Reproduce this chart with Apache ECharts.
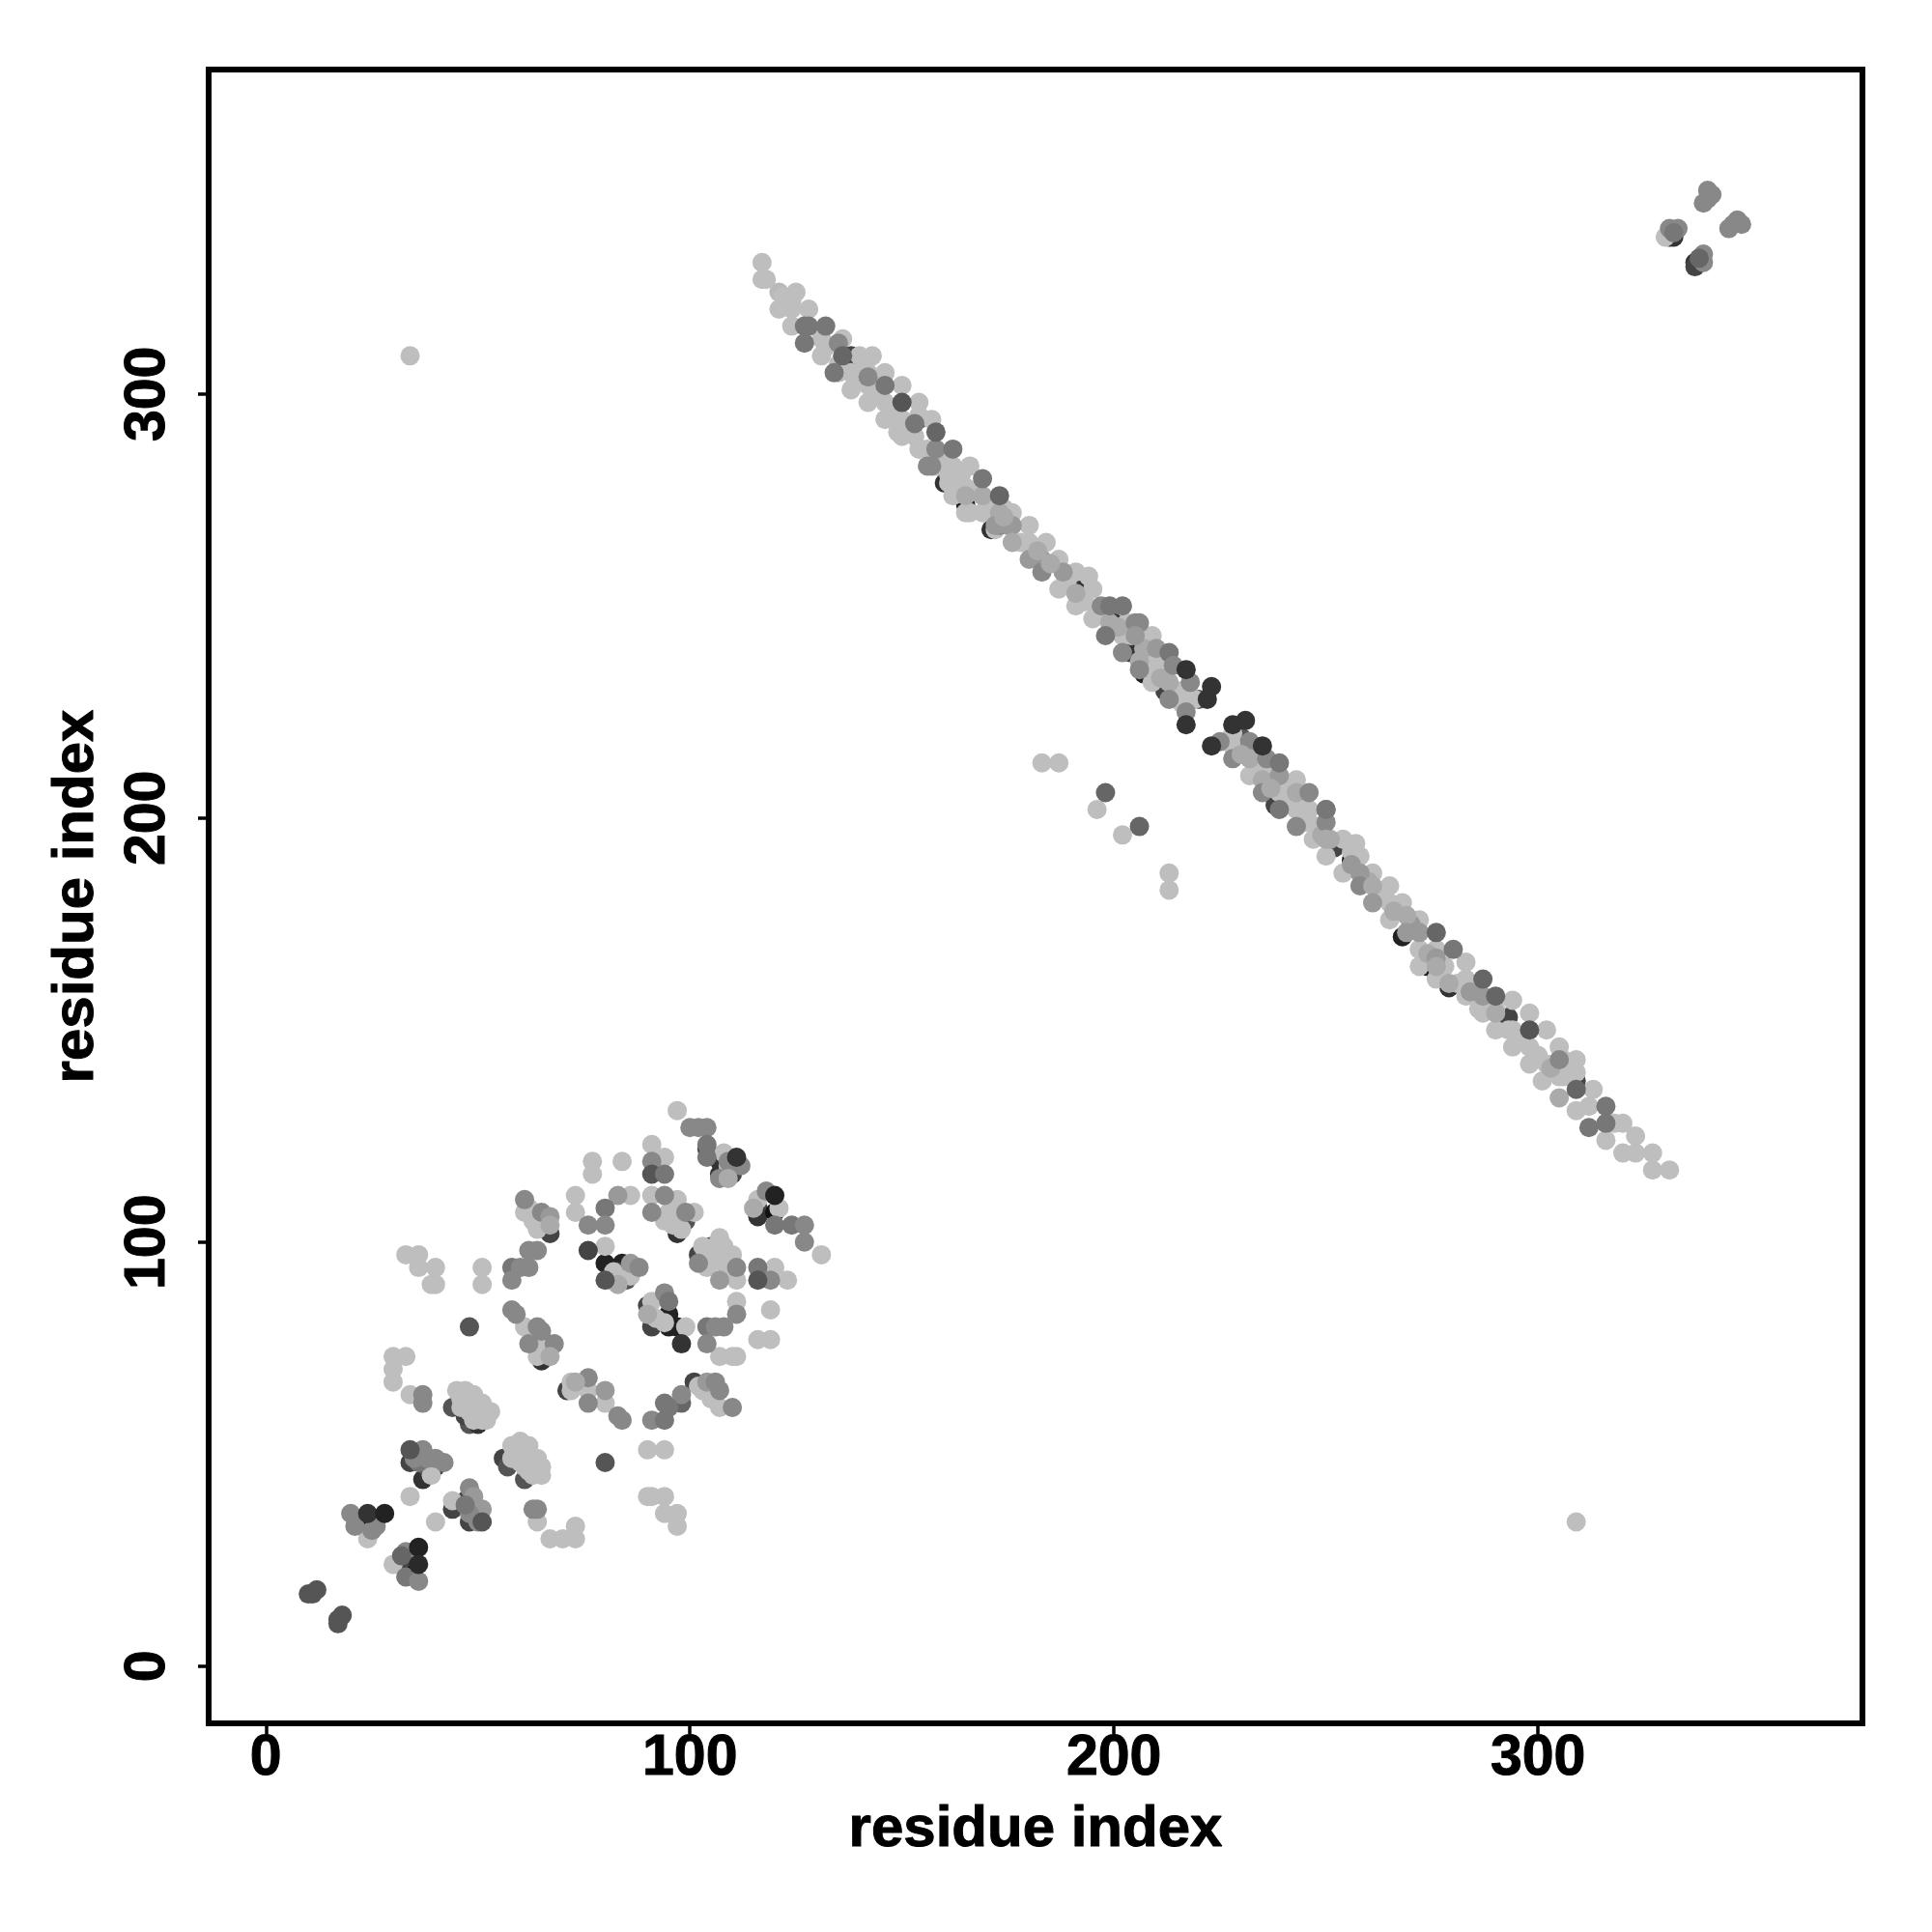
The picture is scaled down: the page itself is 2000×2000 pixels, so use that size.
<!DOCTYPE html>
<html><head><meta charset="utf-8">
<style>html,body{margin:0;padding:0;background:#fff}#c{width:2000px;height:2000px}</style>
<script src="https://cdn.jsdelivr.net/npm/echarts@6/dist/echarts.min.js"></script>
</head><body><div id="c"></div>
<script>
// each point: [residue x, residue y, grey level], drawn layer by layer
const tickValues = [0, 100, 200, 300];
const axisTitle = 'residue index';

const underPoints = [
[33,24,17],[32,25,68],[24,33,17],[25,32,68],[34,48,68],[37,44,51],[38,47,85],[40,47,68],
[47,39,68],[44,37,68],[48,34,68],[44,61,85],[48,57,85],[50,57,51],[47,59,68],
[56,49,68],[57,47,85],[61,44,85],[67,102,68],[66,76,17],[65,72,51],[71,65,68],[75,66,17],
[80,95,34],[84,95,34],[85,91,85],[83,93,68],[90,85,68],[91,80,68],[97,80,34],[95,80,34],[95,83,34],
[97,102,51],[99,105,85],[105,99,85],[102,97,68],[107,119,51],[107,116,51],[110,116,68],[104,122,68],
[116,108,68],[116,106,51],[120,107,17],[101,67,68],
[138,309,68],[160,279,51],[165,274,34],[171,268,51],[189,257,51],[191,254,51],[207,234,34],[204,239,51],
[154,294,85],[200,246,51],[212,230,68],[220,228,85],[230,219,85],[232,216,51],[238,203,68],
[252,193,68],[256,190,17],[268,172,34],[274,165,34],[279,160,51],[293,153,68],[309,138,68],
[331,337,34],[332,337,51],[337,331,51],[337,330,68]
];

const lightPoints = [
[30,24,190],[24,30,190],[34,40,190],[40,34,190],[39,45,190],[44,39,190],[34,64,190],[30,67,190],[30,70,190],
[30,73,190],[33,73,190],[33,97,190],[36,97,190],[36,94,190],[40,94,190],[39,90,190],[40,90,190],[51,94,190],[51,90,190],
[45,65,190],[47,65,190],[49,64,190],[51,62,190],[53,60,190],[46,63,190],[48,62,190],[50,60,190],[52,58,190],[49,58,190],
[46,61,190],[48,60,190],[51,58,190],
[60,53,190],[58,52,190],[62,52,190],[64,49,190],[65,47,190],[65,45,190],[62,49,190],[59,50,190],[61,47,190],[63,45,190],[60,50,190],
[58,49,190],[60,48,190],[62,46,190],
[64,34,190],[67,30,190],[70,30,190],[73,30,190],[73,33,190],[90,51,190],[94,51,190],[90,40,190],[91,40,190],[94,40,190],[94,36,190],[97,36,190],[97,33,190],
[107,73,190],[110,73,190],[111,73,190],[116,77,190],[119,77,190],[119,84,190],[111,86,190],
[61,107,190],[62,108,190],[64,103,190],[63,105,190],[73,111,190],[73,107,190],[61,80,190],[64,76,190],[64,73,190],
[77,119,190],[77,116,190],[84,119,190],[86,111,190],[80,99,190],[91,123,190],[94,120,190],[91,111,190],
[97,110,190],[95,107,190],[94,105,190],[96,104,190],[97,107,190],[101,107,190],[98,103,190],
[107,101,190],[110,97,190],[107,97,190],[104,94,190],[106,99,190],[105,95,190],[108,95,190],[111,91,190],[120,94,190],[123,91,190],
[104,97,190],[103,99,190],[108,99,190],[109,93,190],
[82,93,190],[86,92,190],[81,91,190],[91,86,190],[92,82,190],[94,81,190],[99,80,190],[108,121,190],[109,118,190],
[121,108,190],[116,110,190],[131,97,190],[97,131,190],[72,65,190],[76,65,190],[80,62,190],[103,65,190],[105,63,190],[107,61,190],[102,66,190],
[72,67,190],[34,309,190],[309,34,190],[183,213,190],[187,213,190],[196,202,190],[202,196,190],[213,187,190],[213,183,190],
[117,331,190],[117,327,190],[118,327,190],[125,324,190],[121,320,190],[124,322,190],[128,320,190],[124,316,190],[121,324,185],
[122,323,190],[124,320,190],[132,311,190],[135,307,190],[141,308,190],[139,303,190],[143,304,190],[144,300,190],[148,296,190],[149,291,190],[152,292,190],
[156,287,190],[159,284,190],[161,281,190],[164,281,190],[165,278,190],[167,277,190],[170,273,190],[174,273,190],[175,270,190],[161,279,190],[172,268,190],
[136,313,190],[131,309,190],[131,313,190],[140,309,190],[143,309,190],[135,305,190],[138,305,190],[138,301,190],[142,305,190],[146,305,190],
[142,302,190],[142,298,190],[150,302,190],[146,298,190],[146,294,190],[150,294,190],[150,290,190],[154,298,190],[154,295,190],[157,294,190],
[153,290,190],[154,287,190],[158,283,190],[162,283,190],[166,283,190],[164,278,190],[162,276,190],[165,272,190],[169,272,190],[176,272,190],
[166,272,190],[180,269,190],[180,265,190],[184,265,190],[187,261,190],[187,254,190],[191,258,190],[194,257,190],[195,254,190],[191,250,190],[195,247,190],
[170,275,190],[178,265,190],[189,256,190],[193,251,190],[196,249,190],[204,243,190],[208,237,190],[211,236,190],[215,230,190],[216,227,190],
[202,243,190],[203,246,190],[209,243,190],[209,236,190],[209,232,190],[216,229,190],[219,228,190],
[228,220,190],[228,217,190],[232,210,190],[243,209,190],[239,206,190],[243,202,190],[246,202,190],[246,199,190],[247,195,190],[250,191,190],
[234,212,190],[237,211,190],[241,208,190],[241,204,190],[245,203,190],[245,199,190],[256,192,190],[263,182,190],
[254,195,190],[257,194,190],[258,191,190],[254,187,190],[261,187,190],[265,184,190],[265,180,190],[268,180,190],[265,176,190],[272,176,190],
[272,173,185],[272,169,190],[276,169,190],[272,165,190],[276,162,190],[283,166,190],[283,162,190],[283,158,190],[287,154,190],[294,157,190],[298,154,190],
[278,165,190],[281,161,190],[286,155,190],[290,155,190],[293,150,190],[297,149,190],[300,144,190],[306,139,190],
[290,150,190],[294,150,190],[302,150,190],[294,146,190],[298,146,190],[305,146,190],[298,142,190],[302,142,190],[306,143,190],[309,143,190],
[301,138,190],[309,140,190],[305,139,190],[309,131,190],[312,132,190],[313,136,190],[318,128,190],[320,128,190],[316,124,190],[323,125,190],
[320,121,190],[323,121,190],[327,121,190],[327,117,190],[331,117,190],[330,337,190]
];

const midPoints = [
[33,27,136],[32,26,102],[33,21,119],[36,20,136],[20,36,136],[21,33,136],[26,33,136],[25,32,136],
[37,51,136],[36,48,119],[40,49,136],[42,48,136],[35,49,136],[38,49,136],[37,64,136],[37,62,136],
[48,42,136],[49,40,153],[51,37,153],[48,36,136],[50,34,136],[47,38,119],[63,37,136],[64,37,136],
[58,94,119],[60,94,136],[62,94,136],[62,98,136],[64,98,136],[58,91,136],[61,110,136],[65,107,136],[67,106,153],[67,104,170],
[58,84,136],[59,83,136],[64,80,136],[65,79,136],[62,76,136],[68,76,136],[67,73,170],
[100,127,136],[102,127,136],[104,127,136],[104,123,119],[104,120,119],[112,118,136],[109,119,136],[107,115,136],[109,115,170],
[91,119,136],[91,116,85],[94,116,119],[83,111,153],[80,108,119],[80,104,136],[76,104,136],[91,107,136],[94,111,136],
[99,107,136],[86,95,153],[88,94,136],[83,90,170],[80,91,85],[94,88,136],[95,86,119],[90,83,170],
[102,95,136],[111,94,136],[107,91,153],[116,94,119],[119,91,136],[111,83,136],[104,80,119],[108,80,136],[106,80,136],[104,76,136],
[118,112,136],[115,108,170],[120,104,119],[124,104,119],[127,104,136],[127,100,136],
[76,62,136],[76,68,136],[73,67,170],[80,65,153],[83,59,136],[84,58,136],[91,58,136],[94,58,119],[94,62,119],[98,62,102],[98,64,136],[95,61,119],
[104,67,153],[106,67,136],[107,65,136],[110,61,136],[198,206,102],[206,198,102],
[340,348,136],[341,347,136],[339,345,136],[340,346,136],[347,341,136],[348,340,136],[345,339,136],[346,340,136],
[331,339,136],[333,339,136],[332,338,119],[339,333,136],[339,331,136],[338,332,102],
[135,312,136],[134,305,119],[142,304,136],[146,302,119],[153,293,119],[158,287,136],[157,283,136],[165,276,170],[169,276,170],[156,283,136],
[173,269,136],[175,269,153],[173,272,170],[172,269,153],[176,269,153],[176,265,170],[180,261,153],[183,261,153],[183,258,136],[188,258,153],
[174,271,170],[182,263,170],[185,260,170],[191,253,170],[199,246,170],[201,245,170],[207,240,170],[206,237,170],[211,233,170],
[197,250,136],[199,250,119],[202,250,119],[198,243,119],[202,239,136],[205,246,136],[206,246,136],[205,243,153],[210,240,153],[213,239,119],
[206,235,136],[213,232,170],[214,236,136],[218,232,136],[213,228,136],[217,225,136],
[225,218,136],[232,218,136],[228,214,136],[232,214,170],[235,209,170],[236,214,136],[239,210,153],[235,206,136],[243,206,170],[246,206,136],
[230,215,170],[237,207,170],[249,196,170],[251,195,170],[256,189,153],[260,185,170],[266,178,170],[270,175,153],[274,168,170],[276,167,153],[284,159,153],[303,141,170],
[239,202,119],[250,202,119],[243,198,136],[250,199,136],[250,195,170],[258,187,153],[258,184,136],[261,184,170],[261,180,153],[269,177,170],
[269,173,153],[272,173,153],[287,158,153],[290,154,170],[276,165,170],[279,161,170],[305,143,136],[305,134,170]
];

const topPoints = [
[10,17,85],[11,17,85],[12,18,85],[17,10,85],[18,12,85],[17,11,85],
[36,28,34],[36,24,42],[24,36,51],[28,36,34],[34,51,85],[51,34,85],[76,98,68],[111,120,51],[120,111,34],[98,76,51],[48,80,85],[80,48,85],[116,91,85],
[127,316,119],[128,316,119],[132,316,119],[127,312,119],[136,309,102],[150,298,85],[158,291,102],[162,287,119],[169,280,119],[173,276,102],
[217,235,51],[223,231,51],[222,228,51],[217,222,51],[231,223,51],[228,222,51],[235,217,51],[223,217,51],[239,213,119],
[250,202,119],[276,173,102],[280,169,119],[287,162,102],[290,158,102],[298,150,85],[309,136,102],[316,132,119],[312,127,119],[316,128,119]
];

const layers = [underPoints, lightPoints, midPoints, topPoints];
const grey = g => `rgb(${g},${g},${g})`;
const font = { color:'#000', fontFamily:'"Liberation Sans"', fontWeight:'bold', fontSize:59, textBorderColor:'#000', textBorderWidth:1 };
const axisCommon = {
  type:'value', min:-13.5, max:376.5, name:axisTitle, nameLocation:'middle',
  nameTextStyle:{...font, fontSize:60}, splitLine:{show:false},
  axisLine:{show:false, onZero:false},
  axisTick:{show:true, length:11, inside:false, customValues:tickValues, lineStyle:{color:'#000',width:3.5}}
};
const chart = echarts.init(document.getElementById('c'), null, {renderer:'canvas'});
chart.setOption({
  animation:false, backgroundColor:'#fff',
  grid:{left:216, right:72, top:72, bottom:216, show:true, backgroundColor:'transparent', borderColor:'#000', borderWidth:6},
  xAxis:{...axisCommon, nameGap:80, axisLabel:{...font, margin:7, customValues:tickValues}},
  yAxis:{...axisCommon, nameGap:107, axisLabel:{...font, rotate:90, margin:33, customValues:tickValues}},
  series: layers.map(pts => ({
    type:'scatter', symbol:'circle', symbolSize:20, silent:true,
    data: pts.map(p => ({value:[p[0],p[1]], itemStyle:{color:grey(p[2]), opacity:1}}))
  }))
});
</script></body></html>
